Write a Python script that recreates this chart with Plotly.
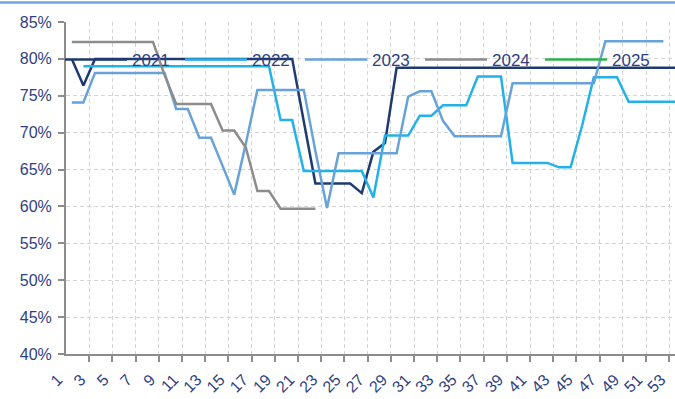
import plotly.graph_objects as go

weeks = list(range(1, 54))
tick_weeks = list(range(1, 54, 2))
tick_labels = [str(w) for w in tick_weeks]
grid_bounds = [2.5, 4.5, 6.5, 8.5, 10.5, 12.5, 14.5, 16.5, 18.5, 20.5, 22.5, 24.5, 26.5,
               28.5, 30.5, 32.5, 34.5, 36.5, 38.5, 40.5, 42.5, 44.5, 46.5, 48.5, 50.5, 52.5]
y_ticks = [40, 45, 50, 55, 60, 65, 70, 75, 80, 85]
y_labels = ["40%", "45%", "50%", "55%", "60%", "65%", "70%", "75%", "80%", "85%"]

s2021 = [80.0, 76.4, 80.0, 80.0, 80.0, 80.0, 80.0, 80.0, 80.0, 80.0,
         80.0, 80.0, 80.0, 80.0, 80.0, 80.0, 80.0, 80.0, 80.0, 80.0,
         71.5, 63.1, 63.1, 63.1, 63.1, 61.8, 67.4, 68.6, 78.8, 78.8,
         78.8, 78.8, 78.8, 78.8, 78.8, 78.8, 78.8, 78.8, 78.8, 78.8,
         78.8, 78.8, 78.8, 78.8, 78.8, 78.8, 78.8, 78.8, 78.8, 78.8,
         78.8, 78.8, 78.8]
s2022 = [None, 79.0, 79.0, 79.0, 79.0, 79.0, 79.0, 79.0, 79.0, 79.0,
         79.0, 79.0, 79.0, 79.0, 79.0, 79.0, 79.0, 79.0, 71.7, 71.7,
         64.8, 64.8, 64.8, 64.8, 64.8, 64.8, 61.2, 69.6, 69.6, 69.6,
         72.3, 72.3, 73.7, 73.7, 73.7, 77.6, 77.6, 77.6, 65.9, 65.9,
         65.9, 65.9, 65.3, 65.3, 71.0, 77.5, 77.5, 77.5, 74.2, 74.2,
         74.2, 74.2, 74.2]
s2023 = [74.1, 74.1, 78.1, 78.1, 78.1, 78.1, 78.1, 78.1, 78.1, 73.2,
         73.2, 69.3, 69.3, 65.5, 61.6, 68.5, 75.8, 75.8, 75.8, 75.8,
         75.8, 67.5, 59.8, 67.2, 67.2, 67.2, 67.2, 67.2, 67.2, 74.9,
         75.6, 75.6, 71.6, 69.5, 69.5, 69.5, 69.5, 69.5, 76.7, 76.7,
         76.7, 76.7, 76.7, 76.7, 76.7, 76.7, 82.4, 82.4, 82.4, 82.4,
         82.4, 82.4, None]
s2024 = [82.3, 82.3, 82.3, 82.3, 82.3, 82.3, 82.3, 82.3, 77.8, 73.9,
         73.9, 73.9, 73.9, 70.3, 70.3, 68.0, 62.1, 62.1, 59.7, 59.7,
         59.7, 59.7]
s2025 = []

series = [
    ("2021", s2021, "#1F3A70"),
    ("2022", s2022, "#22B2E8"),
    ("2023", s2023, "#67A2D9"),
    ("2024", s2024, "#8C8C8C"),
    ("2025", s2025, "#2DB34A"),
]

fig = go.Figure()
for name, vals, color in series:
    fig.add_trace(go.Scatter(
        x=weeks[:len(vals)] if vals else [None],
        y=vals if vals else [None],
        mode="lines",
        name=name,
        line=dict(color=color, width=2.5),
        connectgaps=False,
        hoverinfo="skip",
    ))

text_color = "#2F3F7F"
font_family = "Liberation Sans, Arial, sans-serif"

fig.update_layout(
    width=675, height=399,
    margin=dict(l=66, r=0, t=22, b=45, autoexpand=False),
    paper_bgcolor="white",
    plot_bgcolor="white",
    font=dict(family=font_family, color=text_color, size=16),
    showlegend=True,
    legend=dict(
        orientation="h",
        xref="container", yref="container",
        x=60 / 675, y=1 - 60 / 399,
        xanchor="left", yanchor="middle",
        bgcolor="rgba(0,0,0,0)",
        font=dict(size=17, color=text_color, family=font_family),
        entrywidth=43, entrywidthmode="pixels",
        itemwidth=62,
        tracegroupgap=0,
    ),
    xaxis=dict(
        range=[0.5, 53.0],
        tickmode="array",
        tickvals=tick_weeks,
        ticktext=tick_labels,
        tickangle=-45,
        ticks="",
        showgrid=False,
        zeroline=False,
        showline=True,
        linecolor="#8C8C8C",
        linewidth=2,
        tickfont=dict(size=16, color=text_color),
        ticklabelshift=-14,
        ticklabelstandoff=8,
        minor=dict(
            tickmode="array",
            tickvals=grid_bounds,
            ticks="outside",
            ticklen=6,
            tickcolor="#8C8C8C",
            tickwidth=1.5,
            showgrid=True,
            gridcolor="#D4D4D4",
            griddash="4px,3px",
            gridwidth=1,
        ),
    ),
    yaxis=dict(
        range=[40, 85],
        tickmode="array",
        tickvals=y_ticks,
        ticktext=y_labels,
        ticks="outside",
        ticklen=6,
        tickcolor="#8C8C8C",
        tickwidth=1.5,
        showgrid=True,
        gridcolor="#D4D4D4",
        griddash="4px,3px",
        gridwidth=1,
        zeroline=False,
        showline=True,
        linecolor="#8C8C8C",
        linewidth=2,
        tickfont=dict(size=16, color=text_color),
        ticklabelstandoff=3,
    ),
    shapes=[dict(
        type="line", xref="paper", yref="paper",
        x0=-66 / 609, x1=1.0, y0=1 + 19.5 / 332, y1=1 + 19.5 / 332,
        line=dict(color="#6FA6DC", width=2.5),
    )],
)

fig.write_html("out.html")
